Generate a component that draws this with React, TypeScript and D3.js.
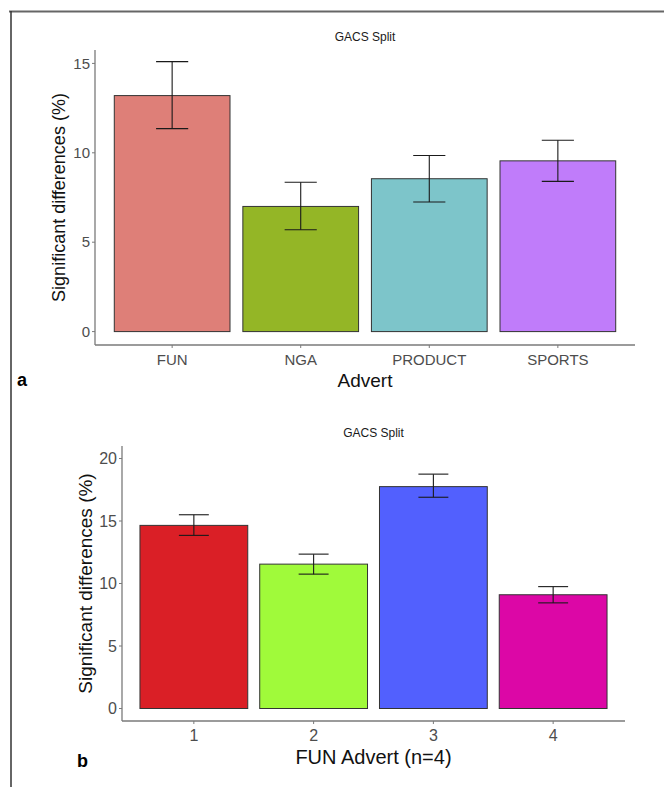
import React from 'react';
import * as d3 from 'd3';

// Panel a: GACS split by advert
const advertCats = ['FUN', 'NGA', 'PRODUCT', 'SPORTS'];
const advertMeans = [13.2, 7.0, 8.55, 9.55];
const advertLow = [11.35, 5.7, 7.25, 8.4];
const advertHigh = [15.1, 8.35, 9.85, 10.7];
const advertColors = ['#DE7F78', '#94B626', '#7DC5CA', '#C07CFA'];
const advertTicks = [0, 5, 10, 15];

// Panel b: GACS split within FUN advert
const funCats = ['1', '2', '3', '4'];
const funMeans = [14.65, 11.55, 17.75, 9.1];
const funLow = [13.85, 10.75, 16.9, 8.45];
const funHigh = [15.5, 12.35, 18.75, 9.75];
const funColors = ['#DA1F26', '#A0FA3A', '#5260FE', '#DC07A6'];
const funTicks = [0, 5, 10, 15, 20];

const FONT = '"Liberation Sans", Arial, sans-serif';

type PanelProps = {
  cats: string[];
  means: number[];
  low: number[];
  high: number[];
  colors: string[];
  ticks: number[];
  yDomain: [number, number];
  left: number;
  right: number;
  top: number;
  bottom: number;
  titleY: number;
  yLabelX: number;
  yLabelSize: number;
  xTitle: string;
  xTitleSize: number;
  xTitleDy: number;
  tickSize: number;
  letter: string;
  letterX: number;
  letterY: number;
};

const Panel = (p: PanelProps) => {
  const x = d3.scalePoint<string>().domain(p.cats).range([p.left, p.right]).padding(0.6);
  const y = d3.scaleLinear().domain(p.yDomain).range([p.bottom, p.top]);
  const step = x.step();
  const barW = step * 0.9;
  const whW = step * 0.25;
  const midX = (p.left + p.right) / 2;
  const midY = (p.top + p.bottom) / 2;

  return (
    <g fontFamily={FONT}>
      <text x={midX} y={p.titleY} textAnchor="middle" fontSize={12} fill="#1a1a1a">
        GACS Split
      </text>
      {p.cats.map((c, i) => (
        <rect
          key={c}
          x={(x(c) as number) - barW / 2}
          y={y(p.means[i])}
          width={barW}
          height={y(0) - y(p.means[i])}
          fill={p.colors[i]}
          stroke="#333"
          strokeWidth={1}
        />
      ))}
      {p.cats.map((c, i) => {
        const cx = x(c) as number;
        return (
          <g key={c} stroke="#1a1a1a" strokeWidth={1.1}>
            <line x1={cx} x2={cx} y1={y(p.high[i])} y2={y(p.low[i])} />
            <line x1={cx - whW / 2} x2={cx + whW / 2} y1={y(p.high[i])} y2={y(p.high[i])} />
            <line x1={cx - whW / 2} x2={cx + whW / 2} y1={y(p.low[i])} y2={y(p.low[i])} />
          </g>
        );
      })}
      {/* axes */}
      <line x1={p.left} x2={p.left} y1={p.top} y2={p.bottom} stroke="#7a7a7a" strokeWidth={1.3} />
      <line x1={p.left} x2={p.right} y1={p.bottom} y2={p.bottom} stroke="#7a7a7a" strokeWidth={1.3} />
      {p.ticks.map((t) => (
        <g key={t}>
          <line x1={p.left - 3} x2={p.left} y1={y(t)} y2={y(t)} stroke="#7a7a7a" />
          <text x={p.left - 5} y={y(t)} dy="0.35em" textAnchor="end" fontSize={p.tickSize} fill="#4d4d4d">
            {t}
          </text>
        </g>
      ))}
      {p.cats.map((c) => (
        <g key={c}>
          <line x1={x(c)} x2={x(c)} y1={p.bottom} y2={p.bottom + 3} stroke="#7a7a7a" />
          <text x={x(c)} y={p.bottom + 20} textAnchor="middle" fontSize={p.tickSize} fill="#4d4d4d">
            {c}
          </text>
        </g>
      ))}
      <text
        transform={`translate(${p.yLabelX},${midY}) rotate(-90)`}
        textAnchor="middle"
        fontSize={p.yLabelSize}
        fill="#111"
      >
        Significant differences (%)
      </text>
      <text x={midX} y={p.bottom + p.xTitleDy} textAnchor="middle" fontSize={p.xTitleSize} fill="#111">
        {p.xTitle}
      </text>
      <text x={p.letterX} y={p.letterY} fontSize={18} fontWeight="bold" fill="#000">
        {p.letter}
      </text>
    </g>
  );
};

export default function App() {
  return (
    <svg
      width={664}
      height={787}
      style={{ position: 'absolute', left: 0, top: 0, background: '#fff' }}
    >
      <rect x={0} y={0} width={664} height={787} fill="#fff" />
      <line x1={9} x2={664} y1={11.5} y2={11.5} stroke="#666" strokeWidth={2} />
      <line x1={11} x2={11} y1={11} y2={787} stroke="#333" strokeWidth={1.5} />
      <Panel
        cats={advertCats}
        means={advertMeans}
        low={advertLow}
        high={advertHigh}
        colors={advertColors}
        ticks={advertTicks}
        yDomain={[-0.75, 15.75]}
        left={95}
        right={635}
        top={50}
        bottom={345}
        titleY={41}
        yLabelX={65}
        yLabelSize={18}
        xTitle="Advert"
        xTitleSize={19}
        xTitleDy={42}
        tickSize={15}
        letter="a"
        letterX={17}
        letterY={386}
      />
      <Panel
        cats={funCats}
        means={funMeans}
        low={funLow}
        high={funHigh}
        colors={funColors}
        ticks={funTicks}
        yDomain={[-1, 21]}
        left={122}
        right={625}
        top={446}
        bottom={721}
        titleY={437}
        yLabelX={92}
        yLabelSize={19}
        xTitle="FUN Advert (n=4)"
        xTitleSize={20}
        xTitleDy={43}
        tickSize={16}
        letter="b"
        letterX={77}
        letterY={767}
      />
    </svg>
  );
}
